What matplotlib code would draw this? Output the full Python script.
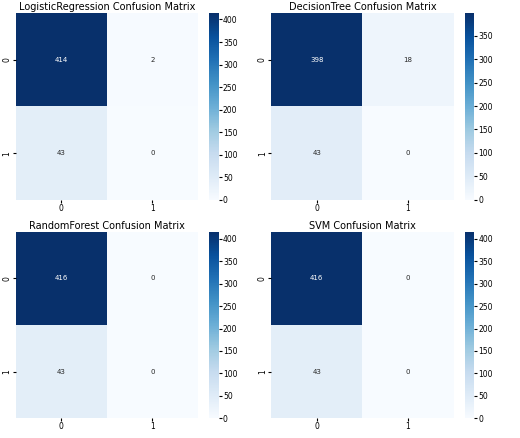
import numpy as np
import matplotlib
matplotlib.use("Agg")
import matplotlib.pyplot as plt
import seaborn as sns

models = ["LogisticRegression", "DecisionTree", "RandomForest", "SVM"]
matrices = [
    [[414, 2], [43, 0]],
    [[398, 18], [43, 0]],
    [[416, 0], [43, 0]],
    [[416, 0], [43, 0]],
]

fig, axes = plt.subplots(2, 2, figsize=(5.2, 4.38), dpi=100)
for ax, name, cm in zip(axes.flat, models, matrices):
    hm = sns.heatmap(np.array(cm), annot=True, fmt="d", cmap="Blues", ax=ax,
                     annot_kws={"size": 5})
    ax.set_title(f"{name} Confusion Matrix", fontsize=7, pad=2)
    ax.tick_params(labelsize=5.5, length=2, pad=1)
    cbar = hm.collections[0].colorbar
    cbar.ax.tick_params(labelsize=5.5, length=2, pad=1)

plt.subplots_adjust(left=0.03, right=0.96, top=0.97, bottom=0.045, wspace=0.12, hspace=0.17)
fig.savefig("out.png")
